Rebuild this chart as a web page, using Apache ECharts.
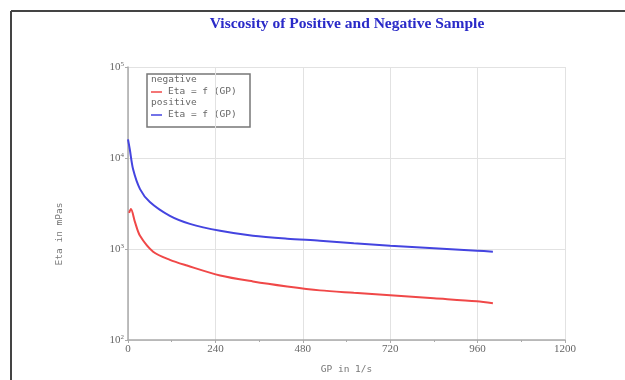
<!DOCTYPE html>
<html><head><meta charset="utf-8">
<script src="https://cdn.jsdelivr.net/npm/echarts@6/dist/echarts.min.js"></script>
<style>html,body{margin:0;padding:0;background:#fff}#c{width:625px;height:380px}</style>
</head><body><div id="c"></div>
<script>
// GP in 1/s
const negGP  = [3, 8, 19, 33, 69, 115, 162, 253, 343, 437, 527, 620, 720, 840, 958, 1002];
const negEta = [2490, 2750, 1990, 1397, 935, 760, 658, 512, 440, 388, 351, 330, 310, 287, 266, 253];
const posGP  = [0, 5, 14, 33, 60, 115, 170, 253, 343, 437, 527, 620, 720, 840, 958, 1002];
const posEta = [16000, 12400, 7500, 4550, 3280, 2310, 1890, 1585, 1397, 1297, 1234, 1160, 1087, 1020, 959, 935];
const xTicks = [0, 240, 480, 720, 960, 1200];

const chart = echarts.init(document.getElementById('c'));
const pair = (xs, ys) => xs.map((x, i) => [x, ys[i]]);
const mono = 'DejaVu Sans Mono';
chart.setOption({
  animation: false,
  title: {
    text: 'Viscosity of Positive and Negative Sample',
    left: 342, top: 11, textAlign: 'center',
    textStyle: { fontFamily: 'Liberation Serif', fontWeight: 'bold', fontSize: 15.5, color: '#2a2ac8' }
  },
  grid: { left: 128, top: 67, right: 60, bottom: 38 },
  xAxis: {
    type: 'value', min: 0, max: 1200, interval: 240,
    name: 'GP in 1/s', nameLocation: 'middle', nameGap: 25,
    nameTextStyle: { fontFamily: mono, fontSize: 9.5, color: '#777' },
    axisLine: { lineStyle: { color: '#aaa', width: 1.5 } },
    axisTick: { show: true, length: 3, lineStyle: { color: '#aaa' } },
    minorTick: { show: true, splitNumber: 2, length: 2, lineStyle: { color: '#aaa' } },
    axisLabel: { fontFamily: 'Liberation Serif', fontSize: 11, color: '#666', margin: 4,
      formatter: v => xTicks.includes(v) ? String(v) : '' },
    splitLine: { show: true, lineStyle: { color: '#e2e2e2', width: 1 } }
  },
  yAxis: {
    type: 'log', logBase: 10, min: 100, max: 100000,
    axisLine: { show: true, lineStyle: { color: '#aaa', width: 1.5 } },
    axisTick: { show: true, length: 3, lineStyle: { color: '#aaa' } },
    axisLabel: {
      margin: 4,
      formatter: v => '{b|10}{s|' + Math.round(Math.log10(v)) + '}',
      rich: {
        b: { fontFamily: 'Liberation Serif', fontSize: 11, color: '#666' },
        s: { fontFamily: 'Liberation Serif', fontSize: 7, color: '#666', verticalAlign: 'top', padding: [0, 0, 6, 0] }
      }
    },
    splitLine: { show: true, lineStyle: { color: '#e2e2e2', width: 1 } }
  },
  series: [
    { name: 'negative', type: 'line', data: pair(negGP, negEta), smooth: 0.3, showSymbol: false,
      lineStyle: { color: '#f04848', width: 2 } },
    { name: 'positive', type: 'line', data: pair(posGP, posEta), smooth: 0.3, showSymbol: false,
      lineStyle: { color: '#4444e0', width: 2 } }
  ],
  graphic: [
    { type: 'line', shape: { x1: 11, y1: 11, x2: 625, y2: 11 }, style: { stroke: '#444', lineWidth: 2 } },
    { type: 'line', shape: { x1: 11, y1: 11, x2: 11, y2: 380 }, style: { stroke: '#444', lineWidth: 2 } },
    { type: 'text', x: 60, y: 234, rotation: Math.PI / 2,
      style: { text: 'Eta in mPas', font: '9.5px "DejaVu Sans Mono"', fill: '#777', align: 'center', verticalMiddle: 'middle', verticalAlign: 'middle' } },
    { type: 'rect', shape: { x: 147, y: 74, width: 103, height: 53 }, style: { fill: '#fff', stroke: '#777', lineWidth: 1.5 } },
    { type: 'text', x: 151, y: 80, style: { text: 'negative', font: '9.5px "DejaVu Sans Mono"', fill: '#666', verticalAlign: 'middle' } },
    { type: 'line', shape: { x1: 151, y1: 92, x2: 162, y2: 92 }, style: { stroke: '#f04848', lineWidth: 1.5 } },
    { type: 'text', x: 168, y: 92, style: { text: 'Eta = f (GP)', font: '9.5px "DejaVu Sans Mono"', fill: '#666', verticalAlign: 'middle' } },
    { type: 'text', x: 151, y: 103, style: { text: 'positive', font: '9.5px "DejaVu Sans Mono"', fill: '#666', verticalAlign: 'middle' } },
    { type: 'line', shape: { x1: 151, y1: 115, x2: 162, y2: 115 }, style: { stroke: '#4444e0', lineWidth: 1.5 } },
    { type: 'text', x: 168, y: 115, style: { text: 'Eta = f (GP)', font: '9.5px "DejaVu Sans Mono"', fill: '#666', verticalAlign: 'middle' } }
  ]
});
</script></body></html>
